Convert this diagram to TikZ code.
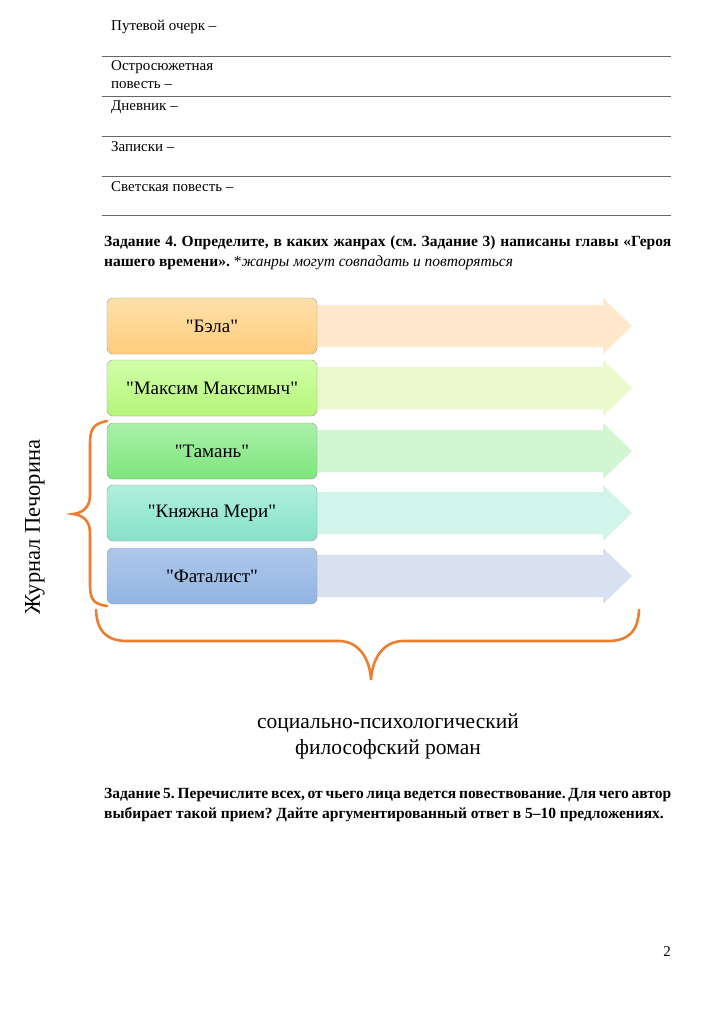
\documentclass[tikz,border=0pt]{standalone}
\usepackage{fontspec}
\setmainfont{Liberation Serif}
\frenchspacing
\definecolor{topa}{RGB}{255,224,170}\definecolor{bota}{RGB}{255,205,125}\definecolor{arra}{RGB}{255,232,204}
\definecolor{topb}{RGB}{210,255,170}\definecolor{botb}{RGB}{180,245,120}\definecolor{arrb}{RGB}{235,250,205}
\definecolor{topc}{RGB}{170,240,170}\definecolor{botc}{RGB}{125,230,125}\definecolor{arrc}{RGB}{210,245,210}
\definecolor{topd}{RGB}{175,240,220}\definecolor{botd}{RGB}{135,225,200}\definecolor{arrd}{RGB}{210,245,235}
\definecolor{tope}{RGB}{175,200,235}\definecolor{bote}{RGB}{145,180,225}\definecolor{arre}{RGB}{215,225,240}
\definecolor{braceor}{RGB}{237,125,49}
\begin{document}
\begin{tikzpicture}[x=1pt,y=-1pt,
  body/.style={font=\fontsize{15}{18}\selectfont,anchor=west,inner sep=0},
  rule/.style={draw=black!60,line width=0.7},
  chap/.style={draw=black!40,rounded corners=6,minimum width=210,minimum height=56,font=\fontsize{19}{21}\selectfont,inner sep=0},
  brace/.style={draw=braceor,line width=2.6,line cap=round}]
\useasboundingbox (0,0) rectangle (724,1024);
\fill[white] (0,0) rectangle (724,1024);
\node[body] (t1) at (111,27) {Путевой очерк –};
\node[body,align=left,anchor=north west] (t2) at (111,60) {Остросюжетная\\повесть –};
\node[body] (t3) at (111,107) {Дневник –};
\node[body] (t4) at (111,147) {Записки –};
\node[body] (t5) at (111,187) {Светская повесть –};
\foreach \y in {56,96,136,176,215} \draw[rule] (102,\y) -- (671,\y);
\node[font=\fontsize{15.5}{20}\selectfont,text width=567,align=justify,anchor=north west,inner sep=0] (z4) at (104,236)
 {\textbf{Задание 4. Определите, в каких жанрах (см. Задание 3) написаны главы «Героя нашего времени».} *\textit{жанры могут совпадать и повторяться}};
\foreach \n/\y/\txt in {a/326/Бэла, b/388/Максим Максимыч, c/451/Тамань, d/513/Княжна Мери, e/576/Фаталист}{
 \fill[arr\n] (317,\y-21) -- (603,\y-21) -- (603,\y-28) -- (632,\y) -- (603,\y+28) -- (603,\y+21) -- (317,\y+21) -- cycle;
 \node[chap,top color=top\n,bottom color=bot\n] (\n) at (212,\y) {\textquotedbl\txt\textquotedbl};
}
\draw[brace] (107,421) .. controls (92,424) and (90,430) .. (90,445) -- (90,495) .. controls (90,508) and (82,513) .. (73,514)
  .. controls (82,515) and (90,520) .. (90,533) -- (90,583) .. controls (90,598) and (92,604) .. (107,606);
\draw[brace] (96,610) .. controls (97,630) and (105,640) .. (125,641) -- (340,641) .. controls (360,642) and (370,660) .. (371,680)
  .. controls (372,660) and (382,642) .. (402,641) -- (610,641) .. controls (630,640) and (638,630) .. (639,610);
\node[rotate=90,font=\fontsize{22.5}{24}\selectfont,inner sep=0] (jp) at (35,527) {Журнал Печорина};
\node[font=\fontsize{21.5}{26}\selectfont,align=center,inner sep=0] (sr) at (388,736) {социально-психологический\\философский роман};
\node[font=\fontsize{15.5}{20}\selectfont\bfseries,text width=567,align=justify,anchor=north west,inner sep=0] (z5) at (104,788)
 {Задание 5. Перечислите всех, от чьего лица ведется повествование. Для чего автор выбирает такой прием? Дайте аргументированный ответ в 5–10 предложениях.};
\node[font=\fontsize{15}{16}\selectfont,anchor=east,inner sep=0] (pg) at (671,952) {2};
\end{tikzpicture}
\end{document}
